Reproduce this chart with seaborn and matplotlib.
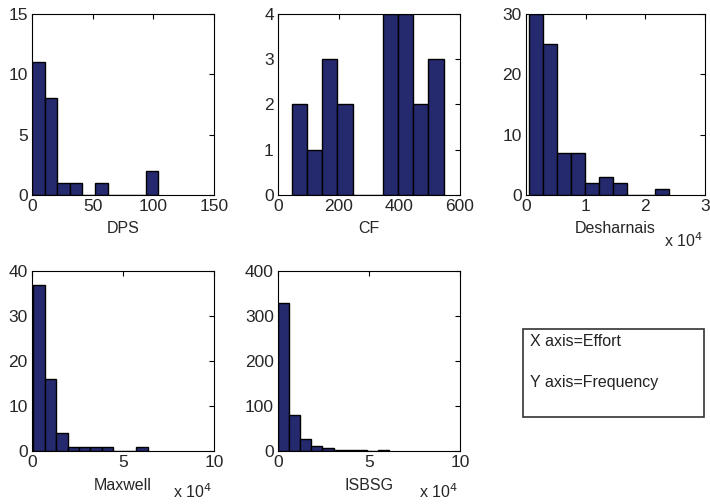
import numpy as np
import pandas as pd
import matplotlib
matplotlib.use("Agg")
import matplotlib.pyplot as plt
import seaborn as sns

sns.set_style("white")
plt.rcParams['font.family'] = ['Liberation Sans', 'DejaVu Sans']

# ---- data: bin edges and counts ----
dps_edges = [0.0, 10.4, 20.8, 31.2, 41.6, 52.0, 62.4, 72.8, 83.2, 93.6, 104.0]
dps_counts = [11, 8, 1, 1, 0, 1, 0, 0, 0, 2]

cf_edges = [46, 96, 146, 196, 246, 296, 346, 396, 446, 496, 546]
cf_counts = [2, 1, 3, 2, 0, 0, 4, 4, 2, 3]

desh_edges = [546, 2885, 5225, 7564, 9904, 12243, 14583, 16922, 19262, 21601, 23940]
desh_counts = [30, 25, 7, 7, 2, 3, 2, 0, 0, 1]

maxw_edges = [583, 6894, 13205, 19516, 25828, 32139, 38450, 44761, 51072, 57383, 63694]
maxw_counts = [37, 16, 4, 1, 1, 1, 1, 0, 0, 1]

isbsg_edges = [0, 6100, 12200, 18300, 24400, 30500, 36600, 42700, 48800, 54900, 61000]
isbsg_counts = [328, 79, 27, 11, 7, 2, 2, 2, 0, 2]

names = ["DPS", "CF", "Desharnais", "Maxwell", "ISBSG"]
xlims = [(0, 150), (0, 600), (0, 30000), (0, 100000), (0, 100000)]
ylims = [(0, 15), (0, 4), (0, 30), (0, 40), (0, 400)]
xticks = [[0, 50, 100, 150], [0, 200, 400, 600], [0, 10000, 20000, 30000],
          [0, 50000, 100000], [0, 50000, 100000]]
xticklabels = [["0", "50", "100", "150"], ["0", "200", "400", "600"],
               ["0", "1", "2", "3"], ["0", "5", "10"], ["0", "5", "10"]]
yticks = [[0, 5, 10, 15], [0, 1, 2, 3, 4], [0, 10, 20, 30],
          [0, 10, 20, 30, 40], [0, 100, 200, 300, 400]]
sci = [False, False, True, True, True]

all_edges = [dps_edges, cf_edges, desh_edges, maxw_edges, isbsg_edges]
all_counts = [dps_counts, cf_counts, desh_counts, maxw_counts, isbsg_counts]

W, H = 710, 504
fig = plt.figure(figsize=(W / 100, H / 100), dpi=100)

# axes boxes in pixels: (left, top, right, bottom)
boxes = [(32, 14, 214, 195), (278, 14, 460, 195), (526, 14, 705, 195),
         (32, 271, 214, 451), (278, 271, 460, 451)]
sci_y = [None, None, -0.25, -0.225, -0.225]

bar_color = "#252a6e"

for i in range(5):
    l, t, r, b = boxes[i]
    ax = fig.add_axes([l / W, 1 - b / H, (r - l) / W, (b - t) / H])
    edges = [float(e) for e in all_edges[i]]
    mids = [(edges[k] + edges[k + 1]) / 2 for k in range(len(edges) - 1)]
    df = pd.DataFrame({"mid": mids, "count": all_counts[i]})
    sns.histplot(data=df, x="mid", weights="count", bins=edges, ax=ax,
                 color=bar_color, alpha=1, edgecolor="black", linewidth=1.0)
    ax.set_xlim(*xlims[i])
    ax.set_ylim(*ylims[i])
    ax.set_xticks(xticks[i])
    ax.set_xticklabels(xticklabels[i])
    ax.set_yticks(yticks[i])
    ax.set_ylabel("")
    ax.set_xlabel(names[i], fontsize=11.5, labelpad=5 if i < 3 else 6)
    ax.tick_params(direction="in", top=True, right=True, length=3.5,
                   width=0.8, labelsize=12.5, pad=3, color="black")
    for s in ax.spines.values():
        s.set_color("black")
        s.set_linewidth(0.8)
    if sci[i]:
        ax.text(0.99, sci_y[i], "x 10$^4$", transform=ax.transAxes,
                ha="right", va="center", fontsize=11.5)

# annotation box
fig.patches.append(matplotlib.patches.Rectangle(
    (523 / W, 1 - 417 / H), (704 - 523) / W, (417 - 329) / H,
    transform=fig.transFigure, fill=False, edgecolor="#333333", linewidth=1.2))
fig.text(530 / W, 1 - 342 / H, "X axis=Effort", fontsize=11.5, va="center", ha="left",
         color="#222222")
fig.text(530 / W, 1 - 383 / H, "Y axis=Frequency", fontsize=11.5, va="center", ha="left",
         color="#222222")

fig.savefig("out.png", dpi=100)
